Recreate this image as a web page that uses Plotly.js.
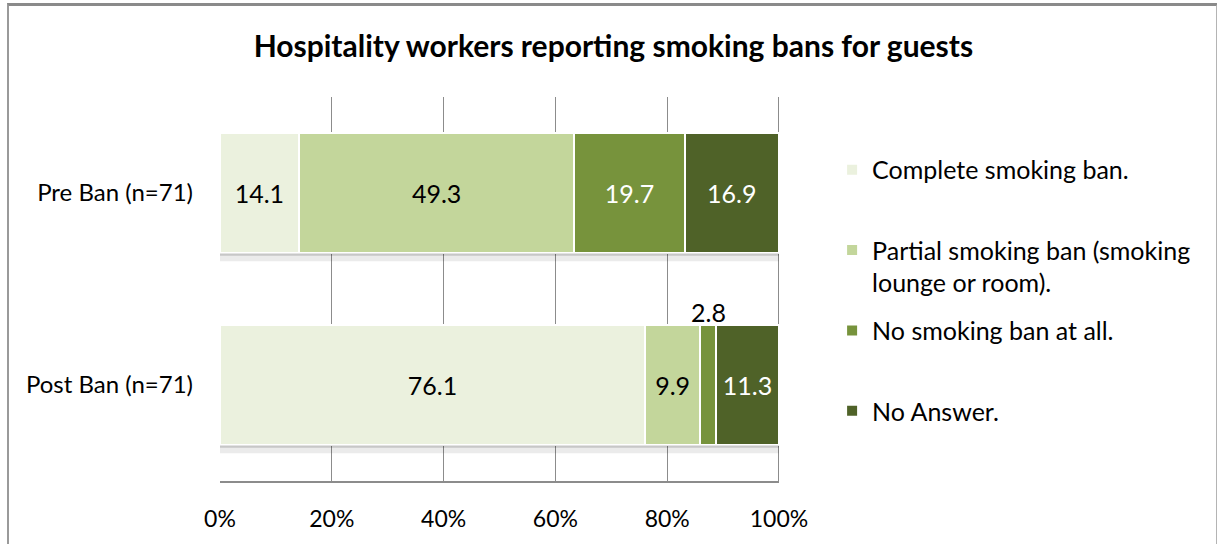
<!DOCTYPE html>
<html>
<head>
<meta charset="utf-8">
<script src="https://cdn.plot.ly/plotly-3.0.1.min.js"></script>
<style>
  html, body { margin: 0; padding: 0; background: #ffffff; overflow: hidden; }
  #wrap { position: relative; width: 1217px; height: 544px; }
  #chart { position: absolute; left: 0; top: 0; width: 1217px; height: 544px; }
  #frame { position: absolute; left: 7px; top: 3px; width: 1207px; height: 600px;
           border-top: 3px solid #8a8a8a; border-left: 2px solid #9a9a9a;
           border-right: 2px solid #b4b4b4; pointer-events: none; }
</style>
</head>
<body>
<div id="wrap">
  <div id="chart"></div>
  <div id="frame"></div>
</div>
<script>
// ---- data ----
const categories = ["Pre Ban (n=71)", "Post Ban (n=71)"];
const seriesNames = [
  "Complete smoking ban.",
  "Partial smoking ban (smoking<br>lounge or room).",
  "No smoking ban at all.",
  "No Answer."
];
const completeBan = [14.1, 76.1];
const partialBan = [49.3, 9.9];
const noBan = [19.7, 2.8];
const noAnswer = [16.9, 11.3];
const xTickVals = [0, 20, 40, 60, 80, 100];
const xTickText = ["0%", "20%", "40%", "60%", "80%", "100%"];

const seriesValues = [completeBan, partialBan, noBan, noAnswer];
const colors = ["#EBF1DE", "#C3D69B", "#77933C", "#4F6228"];
const textColors = ["#000000", "#000000", "#ffffff", "#ffffff"];
const FONT = "Lato, 'Open Sans', sans-serif";
const BARGAP = 0.37;
const MIN_INSIDE = 4; // segments narrower than this get label above
const legendNames = ["legend", "legend2", "legend3", "legend4"];
const legendY = [0.870, 0.661, 0.451, 0.242];

// row totals for normalisation
const totals = categories.map((c, i) => seriesValues.reduce((s, arr) => s + arr[i], 0));

const traces = seriesValues.map((vals, k) => ({
  type: "bar",
  orientation: "h",
  name: seriesNames[k],
  legend: legendNames[k],
  y: categories,
  x: vals,
  text: vals.map(v => v < MIN_INSIDE ? "" : v.toFixed(1)),
  textposition: "inside",
  insidetextanchor: "middle",
  textangle: 0,
  constraintext: "none",
  textfont: { family: FONT, size: 25, color: textColors[k] },
  marker: { color: colors[k], line: { color: "#ffffff", width: 2 } },
  hoverinfo: "skip"
}));

// labels for narrow segments: placed above the segment
const annotations = [];
seriesValues.forEach((vals, k) => {
  vals.forEach((v, i) => {
    if (v < MIN_INSIDE) {
      let start = 0;
      for (let j = 0; j < k; j++) start += seriesValues[j][i];
      const mid = (start + v / 2) / totals[i] * 100;
      annotations.push({
        x: mid, y: categories[i], xref: "x", yref: "y",
        text: v.toFixed(1), showarrow: false,
        yanchor: "bottom", yshift: (1 - BARGAP) / 2 * 192 - 4,
        font: { family: FONT, size: 25, color: "#000000" }
      });
    }
  });
});

// soft shadow under each bar
const half = (1 - BARGAP) / 2;
const shapes = [];
categories.forEach((c, i) => {
  shapes.push({ type: "rect", xref: "x", yref: "y", x0: 0, x1: 100,
    y0: i + half, y1: i + half + 0.012, fillcolor: "rgba(0,0,0,0.22)", line: { width: 0 }, layer: "above" });
  shapes.push({ type: "rect", xref: "x", yref: "y", x0: 0, x1: 100,
    y0: i + half + 0.012, y1: i + half + 0.04, fillcolor: "rgba(0,0,0,0.08)", line: { width: 0 }, layer: "above" });
});
// right border line of plot area
shapes.push({ type: "line", xref: "x", yref: "paper", x0: 100, x1: 100, y0: 0, y1: 1,
  line: { color: "#8c8c8c", width: 2 }, layer: "below" });

const layout = {
  width: 1217, height: 544,
  margin: { l: 220, r: 438, t: 97, b: 63, pad: 0 },
  paper_bgcolor: "rgba(0,0,0,0)",
  plot_bgcolor: "#ffffff",
  barmode: "stack",
  barnorm: "percent",
  bargap: BARGAP,
  title: {
    text: "<b>Hospitality workers reporting smoking bans for guests</b>",
    x: 0.504, xanchor: "center", y: 0.915, yanchor: "middle",
    font: { family: FONT, size: 30, color: "#000000" }
  },
  xaxis: {
    range: [0, 100], tickvals: xTickVals, ticktext: xTickText,
    showgrid: true, gridcolor: "#8c8c8c", gridwidth: 1,
    showline: true, linecolor: "#8c8c8c", linewidth: 2, mirror: false,
    zeroline: false, ticks: "", ticklen: 0, ticklabelstandoff: 16,
    tickfont: { family: FONT, size: 23, color: "#000000" },
    fixedrange: true
  },
  yaxis: {
    type: "category", autorange: "reversed",
    showgrid: false, zeroline: false, showline: false,
    ticks: "", ticklabelstandoff: 26,
    tickfont: { family: FONT, size: 24, color: "#000000" },
    fixedrange: true
  },
  showlegend: true,
  annotations: annotations,
  shapes: shapes
};

legendNames.forEach((ln, k) => {
  layout[ln] = {
    x: 1.095, xanchor: "left", y: legendY[k], yanchor: "top",
    valign: "top",
    font: { family: FONT, size: 25, color: "#000000" },
    bgcolor: "rgba(0,0,0,0)"
  };
});

Plotly.newPlot("chart", traces, layout, { displayModeBar: false, staticPlot: true });
</script>
</body>
</html>
